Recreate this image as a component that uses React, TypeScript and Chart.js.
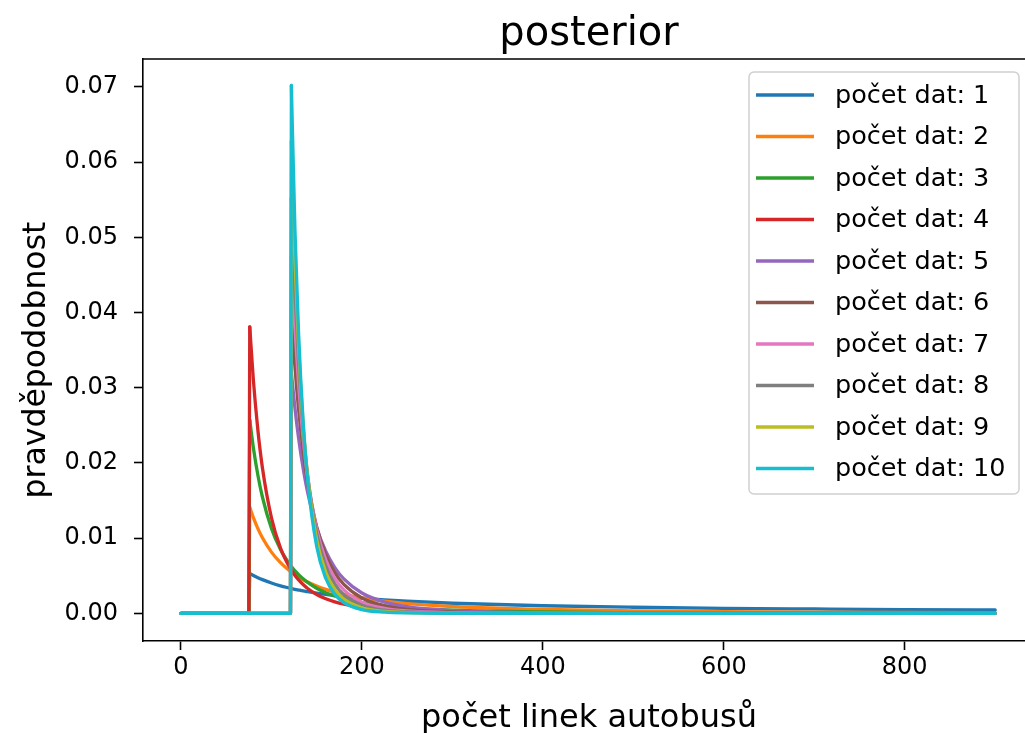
import React, { useEffect, useRef } from "react";
import { Chart, registerables } from "chart.js";

Chart.register(...registerables);

const FONT = "'DejaVu Sans', 'Liberation Sans', sans-serif";

// x positions (number of bus lines) at which values were read
const xValues = [0, 75, 76, 80, 85, 90, 100, 110, 121, 122, 126, 130, 135, 140, 150, 160, 170, 180, 200, 225, 250, 300, 400, 500, 600, 700, 800, 900];

const series1 = [0, 0, 0.0053, 0.00504, 0.00474, 0.00448, 0.00403, 0.00366, 0.00333, 0.0033, 0.0032, 0.0031, 0.00298, 0.00288, 0.00269, 0.00252, 0.00237, 0.00224, 0.00201, 0.00179, 0.00161, 0.00134, 0.00101, 0.00081, 0.00067, 0.00058, 0.0005, 0.00045];
const series2 = [0, 0, 0.0141, 0.01273, 0.01127, 0.01005, 0.00814, 0.00673, 0.00556, 0.00547, 0.00513, 0.00482, 0.00447, 0.00416, 0.00362, 0.00318, 0.00282, 0.00251, 0.00204, 0.00161, 0.0013, 0.00091, 0.00051, 0.00033, 0.00023, 0.00017, 0.00013, 0.0001];
const series3 = [0, 0, 0.0257, 0.02203, 0.01837, 0.01547, 0.01128, 0.00848, 0.00637, 0.00621, 0.00564, 0.00514, 0.00459, 0.00411, 0.00334, 0.00275, 0.0023, 0.00193, 0.00141, 0.00099, 0.00072, 0.00042, 0.00018, 0.00009, 0.00005, 0.00003, 0.00002, 0.00002];
const series4 = [0, 0, 0.0381, 0.03103, 0.02435, 0.01937, 0.01271, 0.00868, 0.00593, 0.00574, 0.00504, 0.00445, 0.00383, 0.00331, 0.00251, 0.00194, 0.00152, 0.00121, 0.00079, 0.0005, 0.00033, 0.00016, 0.00005, 0.00002, 0.00001, 0.00001, 0, 0];
const series5 = [0, 0, 0, 0, 0, 0, 0, 0, 0, 0.032, 0.02724, 0.02329, 0.01929, 0.01608, 0.01139, 0.00825, 0.00609, 0.00458, 0.0027, 0.0015, 0.00089, 0.00036, 0.00008, 0.00003, 0.00001, 0.00001, 0, 0];
const series6 = [0, 0, 0, 0, 0, 0, 0, 0, 0, 0.0397, 0.03272, 0.02712, 0.02162, 0.01738, 0.01149, 0.0078, 0.00542, 0.00385, 0.00204, 0.00101, 0.00054, 0.00018, 0.00003, 0.00001, 0, 0, 0, 0];
const series7 = [0, 0, 0, 0, 0, 0, 0, 0, 0, 0.0475, 0.03791, 0.03045, 0.02338, 0.01813, 0.01118, 0.00712, 0.00466, 0.00312, 0.00149, 0.00066, 0.00031, 0.00009, 0.00001, 0, 0, 0, 0, 0];
const series8 = [0, 0, 0, 0, 0, 0, 0, 0, 0, 0.0552, 0.04266, 0.03321, 0.02455, 0.01835, 0.01057, 0.0063, 0.00388, 0.00246, 0.00106, 0.00041, 0.00018, 0.00004, 0, 0, 0, 0, 0, 0];
const series9 = [0, 0, 0, 0, 0, 0, 0, 0, 0, 0.0628, 0.04699, 0.03546, 0.02525, 0.0182, 0.00978, 0.00547, 0.00317, 0.0019, 0.00073, 0.00025, 0.0001, 0.00002, 0, 0, 0, 0, 0, 0];
const series10 = [0, 0, 0, 0, 0, 0, 0, 0, 0, 0.0702, 0.05087, 0.0372, 0.0255, 0.01773, 0.00889, 0.00466, 0.00254, 0.00144, 0.0005, 0.00015, 0.00005, 0.00001, 0, 0, 0, 0, 0, 0];

const seriesValues = [series1, series2, series3, series4, series5, series6, series7, series8, series9, series10];
const seriesLabels = ["počet dat: 1", "počet dat: 2", "počet dat: 3", "počet dat: 4", "počet dat: 5", "počet dat: 6", "počet dat: 7", "počet dat: 8", "počet dat: 9", "počet dat: 10"];
const seriesColors = ["#1f77b4", "#ff7f0e", "#2ca02c", "#d62728", "#9467bd", "#8c564b", "#e377c2", "#7f7f7f", "#bcbd22", "#17becf"];

const xTicks = [0, 200, 400, 600, 800];
const yTicks = [0, 0.01, 0.02, 0.03, 0.04, 0.05, 0.06, 0.07];

const titleText = "posterior";
const xTitle = "počet linek autobusů";
const yTitle = "pravděpodobnost";

const LINE_W = 3.3;

const decor = {
  id: "decor",
  afterDraw(chart: any) {
    const ctx = chart.ctx;
    const a = chart.chartArea;
    ctx.save();
    // top and right spines
    ctx.strokeStyle = "#000";
    ctx.lineWidth = 1.6;
    ctx.beginPath();
    ctx.moveTo(a.left, a.top);
    ctx.lineTo(a.right, a.top);
    ctx.lineTo(a.right, a.bottom);
    ctx.stroke();

    // title
    ctx.fillStyle = "#000";
    ctx.font = `40px ${FONT}`;
    ctx.textAlign = "center";
    ctx.textBaseline = "alphabetic";
    ctx.fillText(titleText, (a.left + a.right) / 2, 45);

    // x title
    ctx.font = `32px ${FONT}`;
    ctx.fillText(xTitle, (a.left + a.right) / 2, 727);

    // y title
    ctx.save();
    ctx.translate(45, 360);
    ctx.rotate(-Math.PI / 2);
    ctx.font = `31.5px ${FONT}`;
    ctx.fillText(yTitle, 0, 0);
    ctx.restore();

    // legend
    const bx = 749, by = 72, bw = 270, bh = 422, r = 5;
    ctx.globalAlpha = 0.8;
    ctx.fillStyle = "#fff";
    ctx.beginPath();
    ctx.roundRect(bx, by, bw, bh, r);
    ctx.fill();
    ctx.globalAlpha = 1;
    ctx.strokeStyle = "#d0d0d0";
    ctx.lineWidth = 1.5;
    ctx.stroke();

    ctx.font = `25.5px ${FONT}`;
    ctx.textAlign = "left";
    ctx.textBaseline = "middle";
    seriesLabels.forEach((label, i) => {
      const y = 95 + i * 41.5;
      ctx.strokeStyle = seriesColors[i];
      ctx.lineWidth = 3.6;
      ctx.lineCap = "butt";
      ctx.beginPath();
      ctx.moveTo(756, y);
      ctx.lineTo(814, y);
      ctx.stroke();
      ctx.fillStyle = "#000";
      ctx.fillText(label, 835, y + 1);
    });
    ctx.restore();
  },
};

export default function App() {
  const ref = useRef<HTMLCanvasElement>(null);

  useEffect(() => {
    const canvas = ref.current!;
    const datasets: any[] = [];
    seriesValues.forEach((vals, i) => {
      const k = vals.findIndex((v) => v > 0);
      const pts = xValues.map((x, j) => ({ x, y: vals[j] }));
      const common = {
        label: seriesLabels[i],
        borderColor: seriesColors[i],
        backgroundColor: seriesColors[i],
        borderWidth: LINE_W,
        pointRadius: 0,
        pointHoverRadius: 0,
        fill: false,
        borderCapStyle: "round",
        borderJoinStyle: "round",
        order: seriesValues.length - 1 - i,
      };
      // flat part + jump up to the first non-zero value
      datasets.push({ ...common, data: pts.slice(0, k + 1), tension: 0 });
      // decaying part
      datasets.push({ ...common, data: pts.slice(k), cubicInterpolationMode: "monotone" });
    });

    const tickFont = { family: FONT, size: 24 };

    const chart = new Chart(canvas, {
      type: "line",
      data: { datasets },
      options: {
        animation: false,
        responsive: false,
        maintainAspectRatio: false,
        events: [],
        layout: { padding: { top: 59, right: 25, left: 0, bottom: 0 } },
        plugins: {
          legend: { display: false },
          tooltip: { enabled: false },
          title: { display: false },
        },
        scales: {
          x: {
            type: "linear",
            min: -42,
            max: 944,
            afterBuildTicks: (s: any) => {
              s.ticks = xTicks.map((v) => ({ value: v }));
            },
            afterFit: (s: any) => {
              s.height = 92;
            },
            ticks: {
              font: tickFont,
              color: "#000",
              padding: 3,
              autoSkip: false,
              maxRotation: 0,
              callback: (v: any) => String(v),
            },
            grid: {
              drawOnChartArea: false,
              drawTicks: true,
              tickLength: 9,
              tickColor: "#000",
              tickWidth: 1.6,
              color: "#000",
            },
            border: { display: true, color: "#000", width: 1.6 },
          },
          y: {
            type: "linear",
            min: -0.00368,
            max: 0.07372,
            afterBuildTicks: (s: any) => {
              s.ticks = yTicks.map((v) => ({ value: v }));
            },
            afterFit: (s: any) => {
              s.width = 143;
            },
            ticks: {
              font: tickFont,
              color: "#000",
              padding: 16,
              autoSkip: false,
              callback: (v: any) => Number(v).toFixed(2),
            },
            grid: {
              drawOnChartArea: false,
              drawTicks: true,
              tickLength: 9,
              tickColor: "#000",
              tickWidth: 1.6,
              color: "#000",
            },
            border: { display: true, color: "#000", width: 1.6 },
          },
        },
      },
      plugins: [decor],
    });

    return () => chart.destroy();
  }, []);

  return (
    <div
      style={{
        position: "fixed",
        left: 0,
        top: 0,
        width: 1025,
        height: 733,
        overflow: "hidden",
        background: "#fff",
      }}
    >
      <canvas ref={ref} width={1060} height={733} style={{ display: "block" }} />
    </div>
  );
}
